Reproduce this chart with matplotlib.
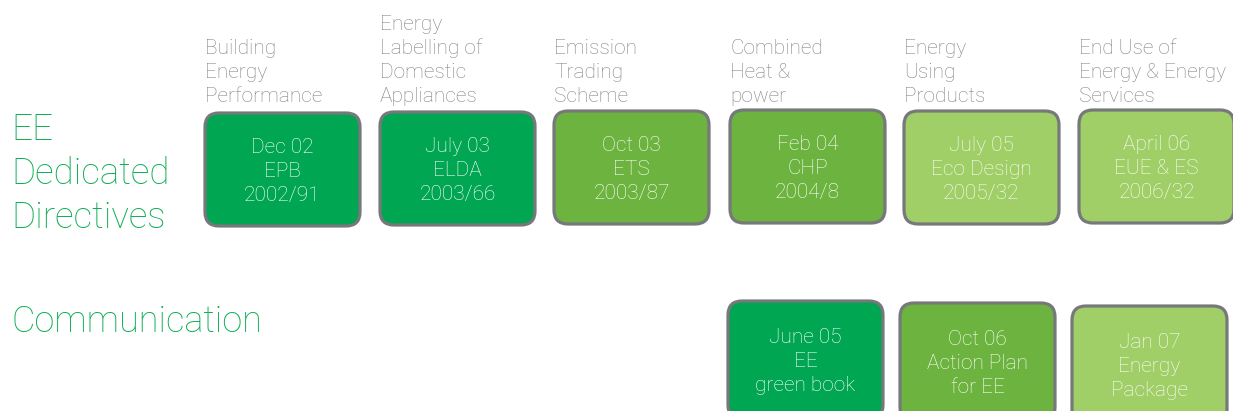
import matplotlib.pyplot as plt
from matplotlib.patches import FancyBboxPatch

# top row: directives
dir_headers = [
    ["Building", "Energy", "Performance"],
    ["Energy", "Labelling of", "Domestic", "Appliances"],
    ["Emission", "Trading", "Scheme"],
    ["Combined", "Heat &", "power"],
    ["Energy", "Using", "Products"],
    ["End Use of", "Energy & Energy", "Services"],
]
dir_labels = [
    ["Dec 02", "EPB", "2002/91"],
    ["July 03", "ELDA", "2003/66"],
    ["Oct 03", "ETS", "2003/87"],
    ["Feb 04", "CHP", "2004/8"],
    ["July 05", "Eco Design", "2005/32"],
    ["April 06", "EUE & ES", "2006/32"],
]
dir_shade = [0, 0, 1, 1, 2, 2]

# bottom row: communications
com_labels = [
    ["June 05", "EE", "green book"],
    ["Oct 06", "Action Plan", "for EE"],
    ["Jan 07", "Energy", "Package"],
]
com_shade = [0, 1, 2]

SHADES = ["#00A651", "#6DB33F", "#A0CE67"]
EDGE = "#77787B"
GREY = "#808285"
TITLE_GREEN = "#0DAE54"
FONT = ["Roboto", "DejaVu Sans"]

W, H = 1233, 411
fig = plt.figure(figsize=(W / 100, H / 100), dpi=100)
ax = fig.add_axes([0, 0, 1, 1])
ax.set_xlim(0, W)
ax.set_ylim(H, 0)
ax.axis("off")

BOX_W, BOX_H = 155, 113
LINE = 24


def draw_box(x, y, h, color, lines):
    patch = FancyBboxPatch((x, y), BOX_W, h,
                           boxstyle="round,pad=0,rounding_size=14",
                           facecolor=color, edgecolor=EDGE, linewidth=2.3)
    ax.add_patch(patch)
    cy = y + h / 2 + 7
    for i, txt in enumerate(lines):
        ax.text(x + BOX_W / 2, cy + (i - 1) * LINE, txt, ha="center",
                va="baseline", color="white", fontsize=15, family=FONT,
                fontweight="light")


top_x = [205, 380, 554, 730, 904, 1079]
top_y = [113, 112, 111, 110, 111, 110]
for x, y, head, lab, s in zip(top_x, top_y, dir_headers, dir_labels, dir_shade):
    draw_box(x, y, BOX_H, SHADES[s], lab)
    n = len(head)
    for i, txt in enumerate(head):
        ax.text(x, 102 - (n - 1 - i) * LINE, txt, ha="left", va="baseline",
                color=GREY, fontsize=15, family=FONT, fontweight="light")

bot_x = [728, 900, 1072]
bot_y = [301, 303, 306]
for x, y, lab, s in zip(bot_x, bot_y, com_labels, com_shade):
    draw_box(x, y, 118, SHADES[s], lab)

for i, txt in enumerate(["EE", "Dedicated", "Directives"]):
    ax.text(11, 140 + i * 44, txt, ha="left", va="baseline", color=TITLE_GREEN,
            fontsize=26.5, family=FONT, fontweight="light")
ax.text(12, 332, "Communication", ha="left", va="baseline", color=TITLE_GREEN,
        fontsize=26, family=FONT, fontweight="light")

fig.savefig("out.png", dpi=100)
